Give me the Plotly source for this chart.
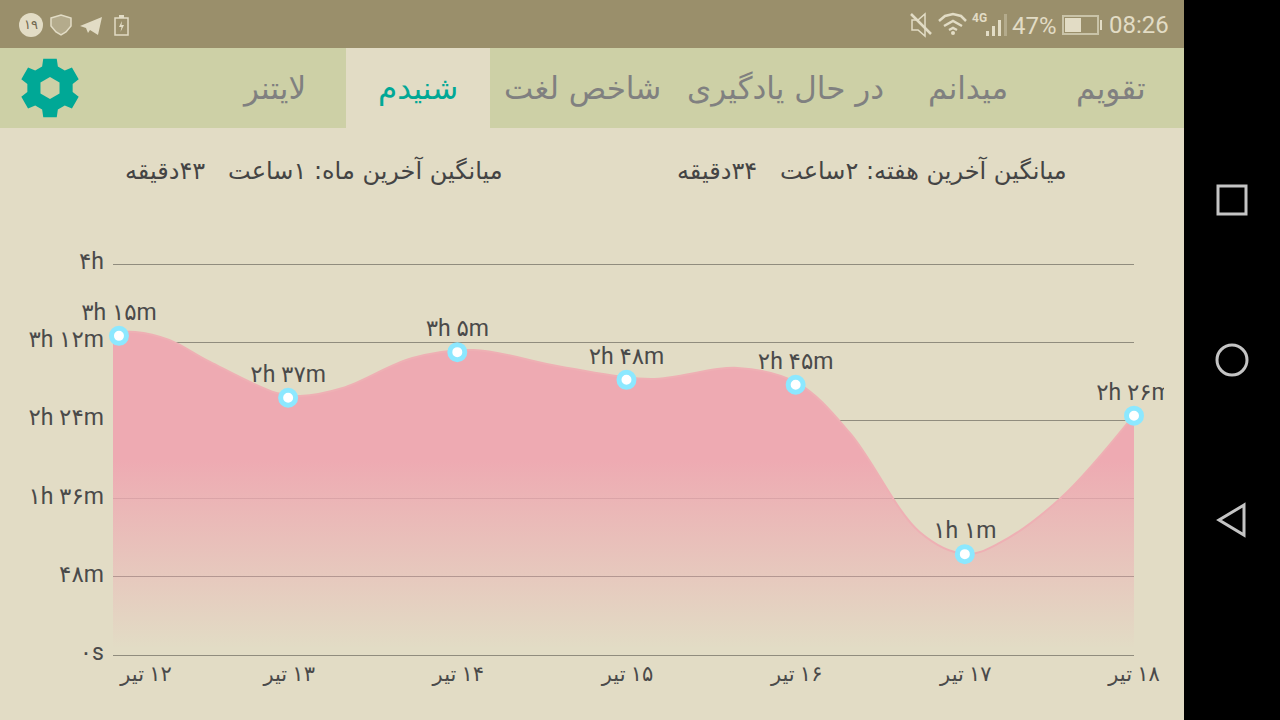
import math
import plotly.graph_objects as go

# chart data
day_labels = ['\u200f۱۲ تیر', '\u200f۱۳ تیر', '\u200f۱۴ تیر', '\u200f۱۵ تیر', '\u200f۱۶ تیر', '\u200f۱۷ تیر', '\u200f۱۸ تیر']
minutes = [195, 157, 185, 168, 165, 61, 146]
point_labels = ['۳h ۱۵m', '۲h ۳۷m', '۳h ۵m', '۲h ۴۸m', '۲h ۴۵m', '۱h ۱m', '۲h ۲۶m']
y_ticks = [0, 48, 96, 144, 192, 240]
y_tick_labels = ['۰s', '۴۸m', '۱h ۳۶m', '۲h ۲۴m', '۳h ۱۲m', '۴h']

# the app's smoothed curve does not pass through the dots, so it is read off the picture on its own
curve_days = [0, 0.13, 0.33, 0.57, 0.96, 1.10, 1.35, 1.76, 2.12, 2.64, 3.16, 3.67, 4.02, 4.33, 4.74, 5.01, 5.21, 5.57, 6]
curve_minutes = [197.7, 198.3, 193.4, 179.9, 160.8, 159.0, 163.9, 182.3, 187.2, 176.8, 169.4, 176.2, 167.0, 136.3,
                 75.5, 62.0, 68.8, 96.4, 147.3]

tabs = ['تقویم', 'میدانم', 'در حال یادگیری', 'شاخص لغت', 'شنیدم', 'لایتنر']
tab_centers = [1111, 968, 785, 582, 418, 274]
month_avg = 'میانگین آخرین ماه: ۱ساعت\u00a0\u00a0\u00a0۴۳دقیقه'
week_avg = 'میانگین آخرین هفته: ۲ساعت\u00a0\u00a0\u00a0۳۴دقیقه'

W, H = 1280, 720
BG = '#e2dcc5'
BAR = '#9a8f6b'
TAB_BG = '#cdd0a6'
TEAL = '#00a896'
ICON = '#e2dcc5'
FONT = 'DejaVu Sans'
CHART_FONT = 'Roboto, DejaVu Sans'
PX_PER_MIN = 391 / 240

days = list(range(len(minutes)))
# the dots sit a little off the curve in the original app
marker_x = [0.035 + (6 - 0.035) / 6 * d for d in days]
marker_x[-1] = 6
marker_y = [m + 0.9 for m in minutes]
tick_x = [min(x + 0.006, 6) for x in marker_x]
tick_x[0] = 0.194


def px(x):
    return x / W


def py(y):
    return 1 - y / H


def rect(x0, y0, x1, y1, fill, layer='below', line=None):
    return dict(type='rect', xref='paper', yref='paper', x0=px(x0), x1=px(x1), y0=py(y0), y1=py(y1),
                fillcolor=fill, line=dict(width=0) if line is None else line, layer=layer)


def path(points, fill=None, line=None, close=True):
    d = 'M' + ' L'.join('%.5f,%.5f' % (px(x), py(y)) for x, y in points) + (' Z' if close else '')
    return dict(type='path', xref='paper', yref='paper', path=d, fillcolor=fill or 'rgba(0,0,0,0)',
                line=dict(width=0) if line is None else line, layer='above')


def circle(cx, cy, r, fill=None, line=None):
    return dict(type='circle', xref='paper', yref='paper', x0=px(cx - r), x1=px(cx + r), y0=py(cy + r), y1=py(cy - r),
                fillcolor=fill or 'rgba(0,0,0,0)', line=dict(width=0) if line is None else line, layer='above')


def gear(cx, cy):
    pts = []
    for i in range(6):
        a = math.radians(60 * i - 90)
        for off, r in [(-20, 23), (-13, 30), (13, 30), (20, 23)]:
            pts.append((cx + r * math.cos(a + math.radians(off)), cy + r * math.sin(a + math.radians(off))))
    return pts


def hexagon(cx, cy, r):
    return [(cx + r * math.cos(math.radians(60 * i - 90)), cy + r * math.sin(math.radians(60 * i - 90))) for i in range(6)]


def text(x, y, s, size, color, anchor='center', family=FONT):
    return dict(xref='paper', yref='paper', x=px(x), y=py(y), text=s, showarrow=False, xanchor=anchor, yanchor='middle',
                font=dict(family=family, size=size, color=color))


thin = dict(color=ICON, width=1.5)
nav = dict(color='#c4c4c4', width=3)
shapes = [
    rect(0, 0, 1184, 48, BAR),
    rect(0, 48, 1184, 128, TAB_BG),
    rect(346, 48, 490, 128, BG),
    rect(1184, 0, 1280, 720, '#000000'),
    rect(1164, 370, 1184, 400, BG, layer='above'),
    path(gear(50, 88), TEAL),
    path(hexagon(50, 88, 11), TAB_BG),
    # status bar, left side
    circle(31, 25, 12, ICON),
    path([(51, 18), (61, 15), (71, 18), (71, 26), (66, 32), (61, 35), (56, 32), (51, 26)], '#b4ab8c', thin),
    path([(80, 26), (102, 17), (98, 35), (90, 30), (88, 33), (86, 28)], ICON),
    rect(115, 18, 128, 35, BAR, 'above', thin),
    rect(119, 15, 124, 18, ICON, 'above'),
    path([(122, 21), (119, 27), (121.5, 27), (120.5, 32), (124, 25), (121.5, 25)], ICON),
    # status bar, right side
    path([(912, 20), (918, 20), (925, 14), (925, 36), (918, 30), (912, 30)], None, thin),
    path([(911, 14), (931, 34)], None, dict(color=ICON, width=2.5), close=False),
    path([(939, 21), (945, 16), (953, 14), (961, 16), (966, 21)], None, dict(color=ICON, width=2.5), close=False),
    path([(944, 26), (953, 21), (962, 26)], None, dict(color=ICON, width=2.5), close=False),
    path([(949, 30), (953, 28), (957, 30)], None, dict(color=ICON, width=2.5), close=False),
    circle(953, 33, 2, ICON),
    rect(986, 31, 989, 36, ICON, 'above'),
    rect(992, 26, 995, 36, ICON, 'above'),
    rect(998, 20, 1001, 36, ICON, 'above'),
    rect(1004, 14, 1007, 36, '#b4ab8c', 'above'),
    rect(1063, 16, 1098, 34, BAR, 'above', dict(color='#c9c3a8', width=2)),
    rect(1065, 18, 1081, 32, ICON, 'above'),
    rect(1100, 20, 1102, 30, ICON, 'above'),
    # android nav buttons
    rect(1218, 186, 1246, 214, 'rgba(0,0,0,0)', 'above', nav),
    circle(1232, 360, 15, None, nav),
    path([(1244, 505), (1219, 520), (1244, 535)], None, nav),
]

annotations = [text(c, 88, t, 31, TEAL if t == 'شنیدم' else '#808080') for t, c in zip(tabs, tab_centers)]
annotations += [
    text(505, 170, month_avg, 24, '#444444', 'right'),
    text(1069, 170, week_avg, 24, '#444444', 'right'),
    text(31, 25, '۱۹', 13, '#6f6750'),
    text(979, 18, '<b>4G</b>', 12, ICON, family='Roboto'),
    text(1034, 26, '47%', 24, ICON, family='Roboto'),
    text(1139, 25, '08:26', 24, ICON, family='Roboto'),
]

area = go.Scatter(
    x=curve_days,
    y=curve_minutes,
    mode='lines',
    line=dict(shape='spline', smoothing=1.0, color='#eeb0b4', width=2),
    fill='tozeroy',
    fillgradient=dict(
        type='vertical',
        start=0,
        stop=200,
        colorscale=[[0, 'rgba(238,170,178,0)'], [0.02, 'rgba(238,170,178,0)'], [0.6, 'rgba(238,170,178,1)'], [1, 'rgba(238,170,178,1)']],
    ),
    hoverinfo='skip',
)
points = go.Scatter(
    x=marker_x,
    y=marker_y,
    mode='markers+text',
    text=point_labels,
    textposition='top center',
    textfont=dict(family=CHART_FONT, size=23, color='#4a4a4a'),
    marker=dict(size=15, color='white', line=dict(color='#8ce8ff', width=5)),
    cliponaxis=False,
)

layout = go.Layout(
    width=W,
    height=H,
    margin=dict(l=0, r=0, t=0, b=0),
    paper_bgcolor=BG,
    plot_bgcolor=BG,
    showlegend=False,
    font=dict(family=CHART_FONT, color='#4a4a4a'),
    xaxis=dict(domain=[px(113), px(1134)], range=[0, 6], tickmode='array', tickvals=tick_x, ticktext=day_labels,
               automargin=False, showgrid=False, zeroline=False, showline=False, ticks='', tickfont=dict(size=21)),
    yaxis=dict(domain=[py(659), py(260)], range=[-4 / PX_PER_MIN, 240 + 4 / PX_PER_MIN], tickmode='array',
               tickvals=y_ticks, ticktext=y_tick_labels, automargin=False,
               showgrid=True, gridcolor='#908c7e', gridwidth=1, zeroline=False, showline=False, ticks='',
               ticklabelstandoff=8, ticklabelshift=-3, tickfont=dict(size=23)),
    shapes=shapes,
    annotations=annotations,
)

fig = go.Figure(data=[area, points], layout=layout)
fig.write_html('out.html', config=dict(displayModeBar=False),
               post_script="document.body.style.margin='0';document.body.style.overflow='hidden';")
